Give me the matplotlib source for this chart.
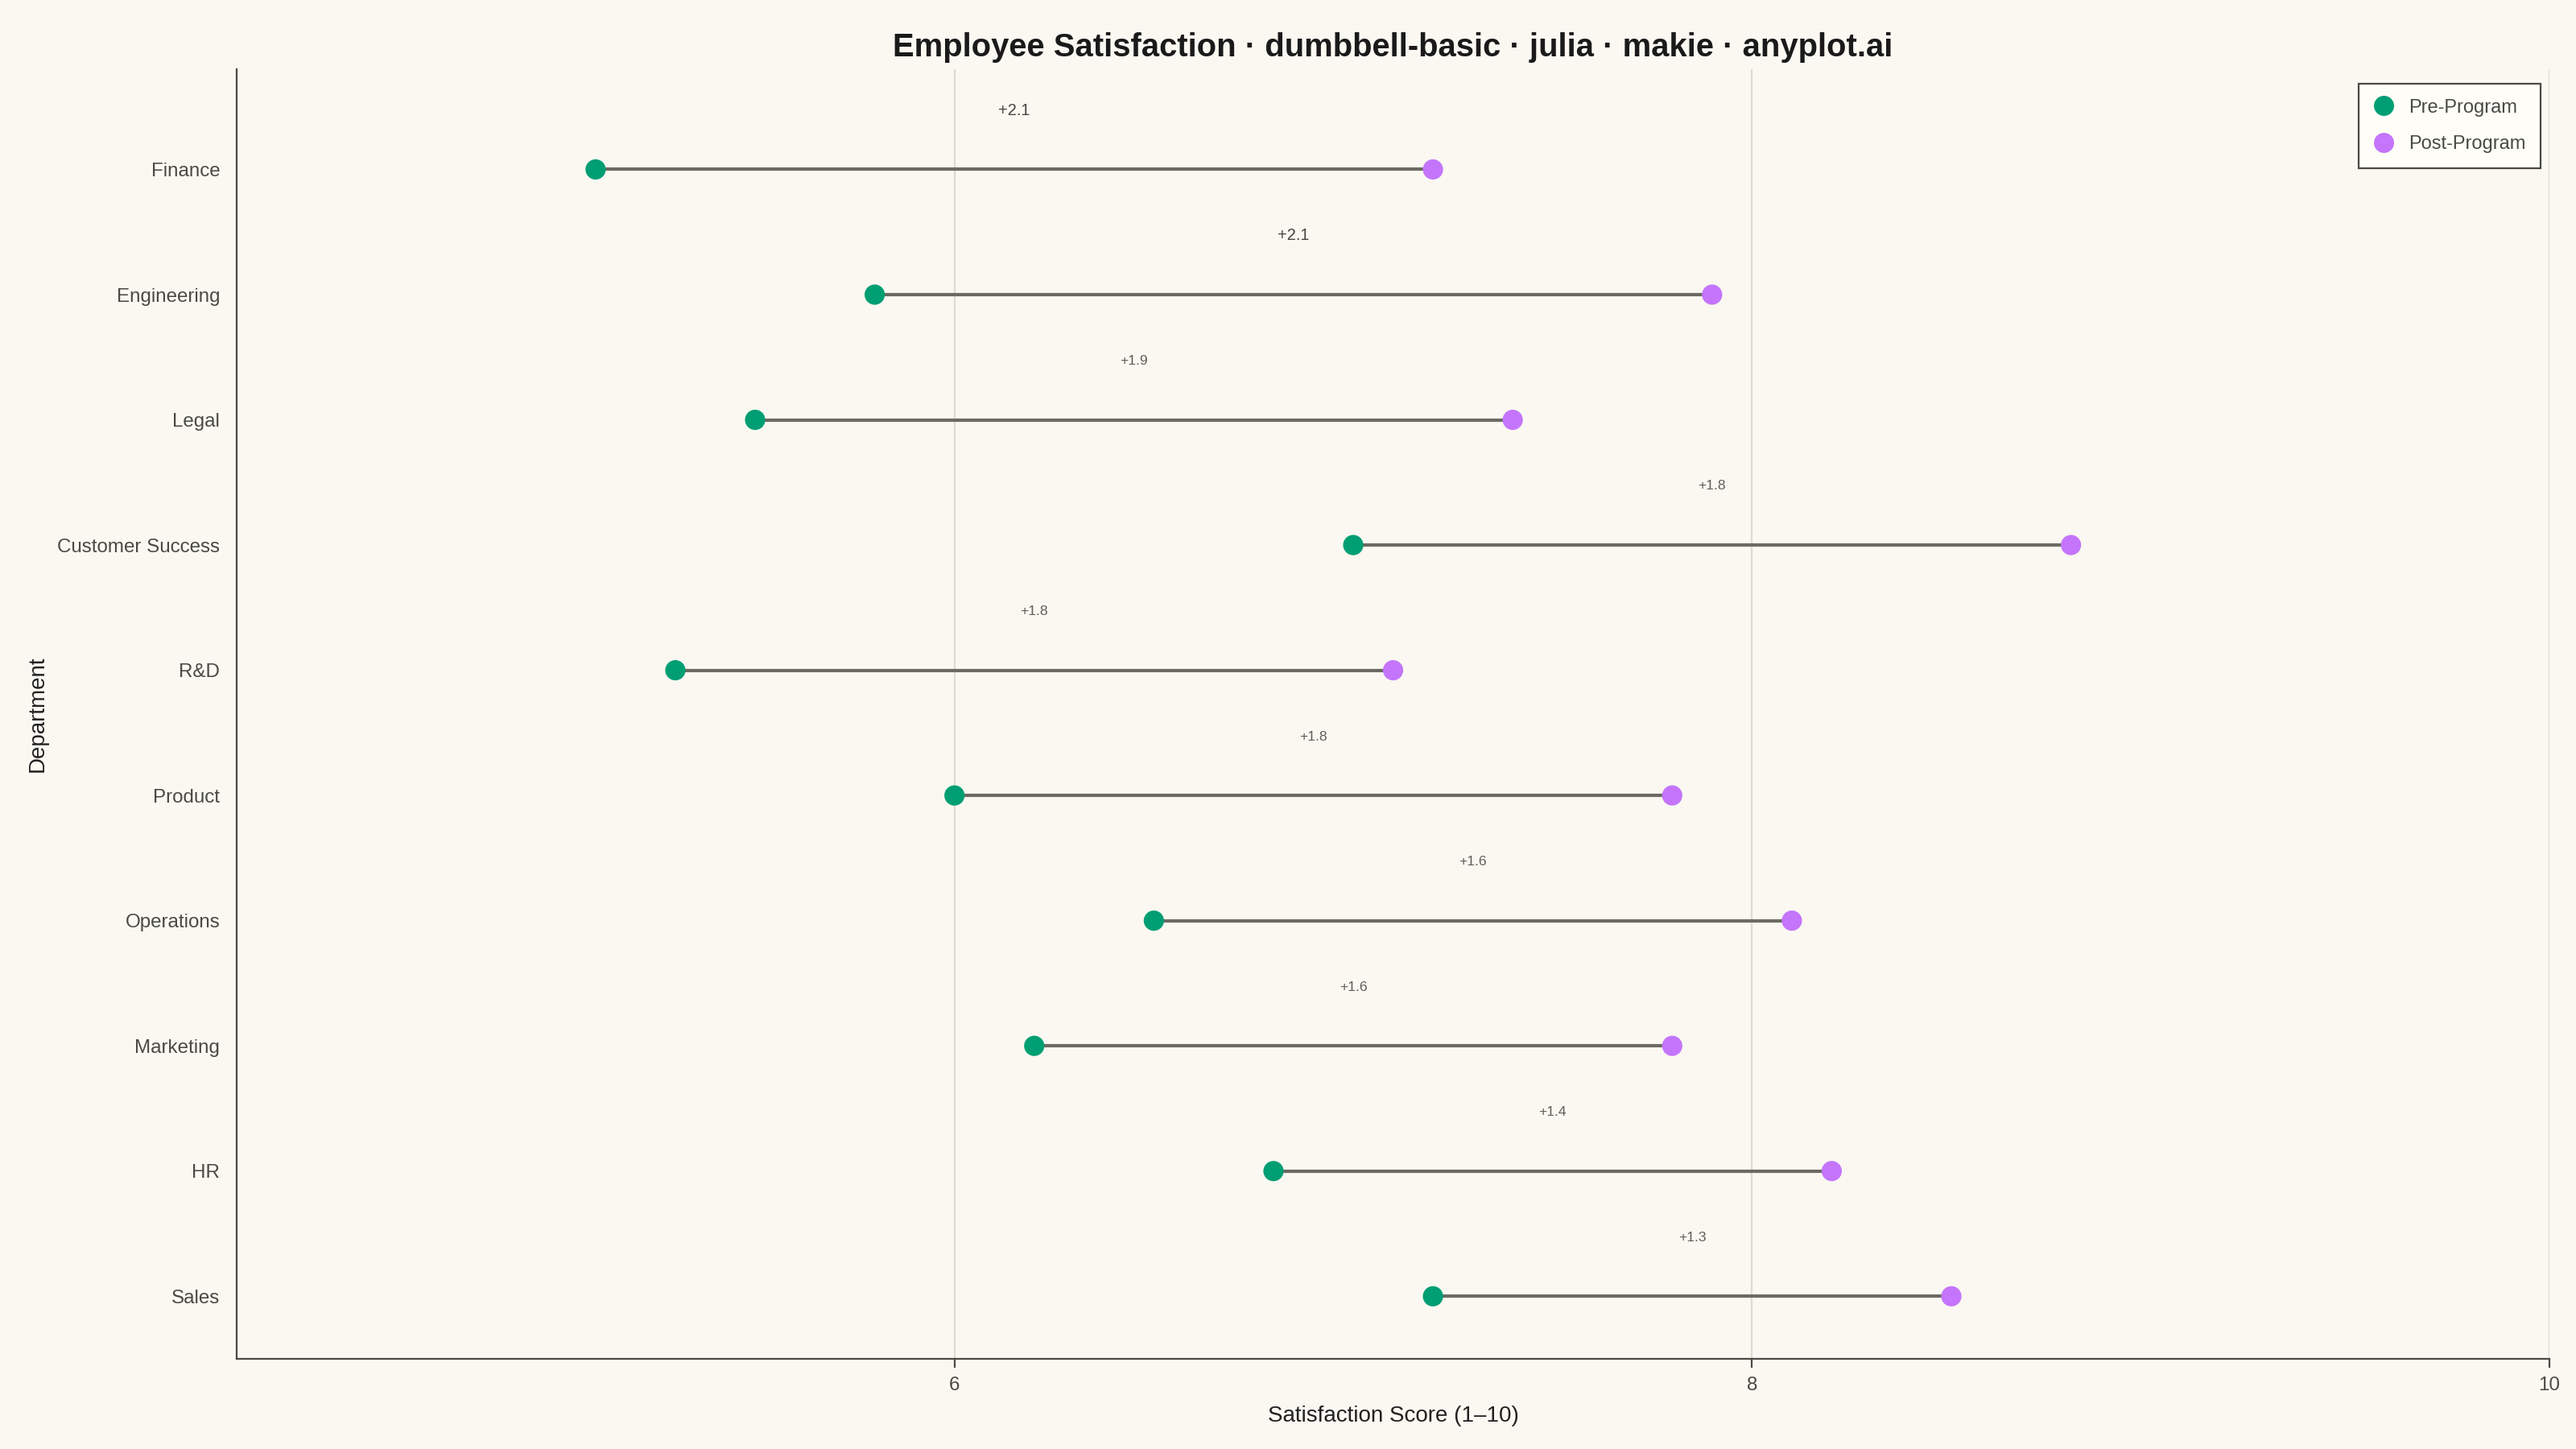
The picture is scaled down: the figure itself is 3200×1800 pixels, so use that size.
import numpy as np
import matplotlib
matplotlib.use("Agg")
import matplotlib.pyplot as plt
from matplotlib.lines import Line2D

# Departments listed top to bottom
departments = ["Finance", "Engineering", "Legal", "Customer Success", "R&D",
               "Product", "Operations", "Marketing", "HR", "Sales"]
pre_scores = [5.1, 5.8, 5.5, 7.0, 5.3, 6.0, 6.5, 6.2, 6.8, 7.2]
post_scores = [7.2, 7.9, 7.4, 8.8, 7.1, 7.8, 8.1, 7.8, 8.2, 8.5]
x_ticks = [6, 8, 10]

BG = "#FAF8F1"
PRE_COLOR = "#009E73"
POST_COLOR = "#C475FB"
LINE_COLOR = "#6B6B62"
INK = "#4A4A44"

plt.rcParams["font.family"] = ["Liberation Sans", "DejaVu Sans"]

fig = plt.figure(figsize=(16, 9), dpi=200, facecolor=BG)
ax = fig.add_axes([0.0919, 0.0622, 0.8978, 0.8900])
ax.set_facecolor(BG)

n = len(departments)
y = np.arange(n, 0, -1)
pre = np.array(pre_scores)
post = np.array(post_scores)
diff = post - pre

# connecting bars
ax.hlines(y, pre, post, color=LINE_COLOR, linewidth=1.5, zorder=2)

ax.scatter(pre, y, s=82, color=PRE_COLOR, edgecolors="none", zorder=3)
ax.scatter(post, y, s=82, color=POST_COLOR, edgecolors="none", zorder=3)

# improvement labels above each bar
for yi, a, b, d in zip(y, pre, post, diff):
    big = d >= 2.0
    ax.text((a + b) / 2, yi + 0.47, f"+{d:.1f}",
            fontsize=7.2 if big else 6.3,
            color="#444440" if big else "#5E5E58",
            ha="center", va="center", zorder=4)

ax.set_xlim(4.2, 10)
ax.set_ylim(0.5, 10.8)
ax.set_xticks(x_ticks)
ax.set_xticklabels([str(t) for t in x_ticks])
ax.set_yticks(y)
ax.set_yticklabels(departments)

ax.grid(axis="x", color="#DEDBD3", linewidth=0.8, zorder=0)
ax.set_axisbelow(True)

for side in ["top", "right"]:
    ax.spines[side].set_visible(False)
for side in ["left", "bottom"]:
    ax.spines[side].set_color(INK)
    ax.spines[side].set_linewidth(0.8)

ax.tick_params(axis="x", length=4, width=0.8, color=INK, pad=4,
               labelsize=8.7, labelcolor=INK)
ax.tick_params(axis="y", length=0, pad=7.5, labelsize=8.7, labelcolor=INK)

ax.set_xlabel("Satisfaction Score (1\u201310)", fontsize=10, color="#222222", labelpad=5)
ax.set_ylabel("Department", fontsize=10, color="#222222", labelpad=4)

fig.text(0.5408, 0.9675,
         "Employee Satisfaction \u00b7 dumbbell-basic \u00b7 julia \u00b7 makie \u00b7 anyplot.ai",
         fontsize=14.4, fontweight="bold", color="#1A1A1A", ha="center", va="center")

handles = [
    Line2D([], [], marker="o", linestyle="none", markersize=9,
           markerfacecolor=PRE_COLOR, markeredgecolor="none", label="Pre-Program"),
    Line2D([], [], marker="o", linestyle="none", markersize=9,
           markerfacecolor=POST_COLOR, markeredgecolor="none", label="Post-Program"),
]
leg = ax.legend(handles=handles, loc="upper right", fontsize=8.5, frameon=True,
                fancybox=False, borderaxespad=0, handletextpad=0.8,
                labelspacing=1.0, borderpad=0.8, handlelength=1.0,
                bbox_to_anchor=(0.9962, 0.989))
leg.get_frame().set_facecolor("#FFFDF7")
leg.get_frame().set_edgecolor(INK)
leg.get_frame().set_linewidth(0.8)
leg.get_frame().set_alpha(1)
for t in leg.get_texts():
    t.set_color(INK)

fig.savefig("out.png", dpi=200, facecolor=BG)
